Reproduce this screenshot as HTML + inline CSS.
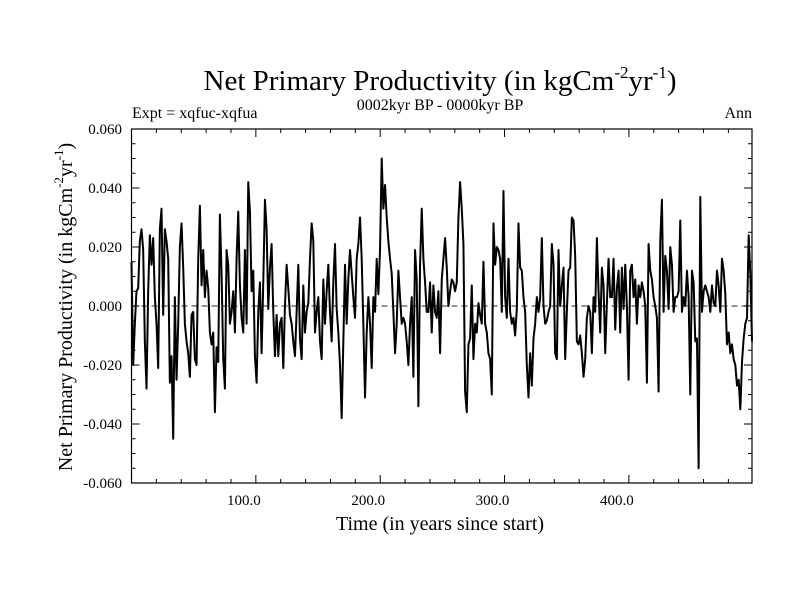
<!DOCTYPE html>
<html><head><meta charset="utf-8">
<style>
html,body{margin:0;padding:0;background:#fff;}
svg{display:block;font-family:"Liberation Serif",serif;}
</style></head>
<body>
<svg id="chart" width="800" height="600" viewBox="0 0 800 600">
<text x="440" y="90" text-anchor="middle" font-size="29">Net Primary Productivity (in kgCm<tspan font-size="17" dy="-12">-2</tspan><tspan dy="12">yr</tspan><tspan font-size="17" dy="-12">-1</tspan><tspan dy="12">)</tspan></text>
<text x="132" y="118" font-size="16">Expt = xqfuc-xqfua</text>
<text x="440" y="110" text-anchor="middle" font-size="16">0002kyr BP - 0000kyr BP</text>
<text x="752" y="118" text-anchor="end" font-size="16">Ann</text>
<text transform="translate(72,307) rotate(-90)" text-anchor="middle" font-size="20">Net Primary Productivity (in kgCm<tspan font-size="13" dy="-9">-2</tspan><tspan dy="9">yr</tspan><tspan font-size="13" dy="-9">-1</tspan><tspan dy="9">)</tspan></text>
<text x="440" y="530" text-anchor="middle" font-size="20">Time (in years since start)</text>
<g id="axes"></g>
<g id="series"></g>
</svg>
<script>
const yTickValues = [-0.06, -0.04, -0.02, 0, 0.02, 0.04, 0.06];
const yTickLabels = ["-0.060", "-0.040", "-0.020", "0.000", "0.020", "0.040", "0.060"];
const xTickValues = [100, 200, 300, 400];
const xTickLabels = ["100.0", "200.0", "300.0", "400.0"];
const xStart = 0;
const xEnd = 499;
// NPP anomaly in units of 0.001 kgC m-2 yr-1
const npp = [15,-20,-6,5,6,22,26,19,-12,-28,5,24,14,23,3,-6,-21,26,33,-3,26,22,16,-26,-17,-45,3,-25,-6,20,28,13,-6,-12,-16,-24,-3,-2,-18,-20,16,34,7,19,3,12,6,-9,-13,-9,-36,-14,-19,31,11,-18,-28,19,14,-6,-2,5,-9,16,32,7,-4,-9,19,-6,42,32,5,12,-17,-26,-2,8,-16,8,36,26,-1,13,21,-2,-17,-3,-17,-6,-4,-21,0,14,6,
-3,-6,-12,-17,-2,14,-11,-18,7,-9,-2,1,16,28,22,-9,-2,3,-12,-18,9,-6,5,14,-2,-12,8,21,-1,-9,-20,-38,-12,14,-6,9,19,11,3,-4,16,21,30,16,-6,-31,-9,3,-6,-21,3,-2,16,4,19,50,33,41,30,22,16,11,-2,-16,-6,12,3,-6,-4,-6,-12,-20,-6,3,-24,19,9,-34,14,33,16,8,-2,-2,8,-9,7,-2,-4,5,-16,9,16,23,13,0,
5,9,8,5,8,30,42,33,21,-29,-36,-13,-11,7,-18,-6,-9,1,-3,-6,15,-6,-9,-16,-18,-30,28,14,20,19,16,-2,39,3,-4,16,-2,-6,-4,-10,-1,28,13,12,3,-2,-20,-31,-16,-27,-11,-6,3,-2,3,23,0,-6,-5,-2,0,21,14,-16,-18,19,0,7,13,-18,-2,12,13,30,29,17,-12,-13,-10,-16,-24,-18,-4,0,-2,-16,3,-2,23,5,-9,13,7,-16,1,16,
3,3,16,-8,6,12,-9,13,-1,14,0,-25,12,14,3,9,-6,7,3,8,5,0,-26,21,12,9,3,0,-4,-29,22,36,-2,17,12,-1,20,14,-2,3,3,5,29,-2,3,0,12,3,-30,12,8,-12,-11,-55,37,-2,5,7,5,3,-2,7,1,0,12,7,-2,16,12,4,-13,-9,-16,-13,-18,-20,-27,-25,-35,-19,-11,-6,-4,24,11,-12];

const NS = "http://www.w3.org/2000/svg";
const L = 131.5, R = 752, T = 129, B = 483;
const yMin = -0.06, yMax = 0.06;
function xScale(v){ return L + (v - xStart) / (xEnd - xStart) * (R - L); }
function yScale(v){ return B - (v - yMin) / (yMax - yMin) * (B - T); }
function mk(tag, attrs){ const e = document.createElementNS(NS, tag); for (const k in attrs) e.setAttribute(k, attrs[k]); return e; }

const axes = document.getElementById('axes');
const frame = mk('rect', {x:L, y:T, width:R-L, height:B-T, fill:'none', stroke:'#000', 'stroke-width':1.2});


axes.appendChild(frame);

const zl = mk('line', {x1:L, x2:R, y1:yScale(0), y2:yScale(0), stroke:'#555', 'stroke-width':1.2, 'stroke-dasharray':'6,4'});


axes.appendChild(zl);

// y ticks (minor every 0.005)
for (let i = 0; i <= 24; i++) {
  const v = yMin + i * 0.005;
  const y = yScale(v);
  const len = (i % 4 === 0) ? 8 : 4;
  const t1 = mk('line', {x1:L, x2:L+len, y1:y, y2:y, stroke:'#000', 'stroke-width':1});
  
  
  axes.appendChild(t1);
  const t2 = mk('line', {x1:R, x2:R-len, y1:y, y2:y, stroke:'#000', 'stroke-width':1});
  
  
  axes.appendChild(t2);
}
yTickValues.forEach((v, i) => {
  const t = mk('text', {x:122, y:yScale(v)+5, 'text-anchor':'end', 'font-size':15});
  t.textContent = yTickLabels[i];
  
  
  axes.appendChild(t);
});
// x ticks (minor every 20)
for (let v = 20; v < xEnd; v += 20) {
  const x = xScale(v);
  const len = (v % 100 === 0) ? 8 : 4;
  const t1 = mk('line', {x1:x, x2:x, y1:B, y2:B-len, stroke:'#000', 'stroke-width':1});
  
  
  axes.appendChild(t1);
  const t2 = mk('line', {x1:x, x2:x, y1:T, y2:T+len, stroke:'#000', 'stroke-width':1});
  
  
  axes.appendChild(t2);
}
xTickValues.forEach((v, i) => {
  const t = mk('text', {x:xScale(v)-12, y:505, 'text-anchor':'middle', 'font-size':15});
  t.textContent = xTickLabels[i];
  
  
  axes.appendChild(t);
});

const step = (xEnd - xStart) / (npp.length - 1);
const pts = npp.map((v, i) => xScale(xStart + i * step).toFixed(2) + ',' + yScale(v / 1000).toFixed(2)).join(' ');
const line = mk('polyline', {points:pts, fill:'none', stroke:'#000', 'stroke-width':2, 'stroke-linejoin':'round'});


document.getElementById('series').appendChild(line);
</script>
</body></html>
